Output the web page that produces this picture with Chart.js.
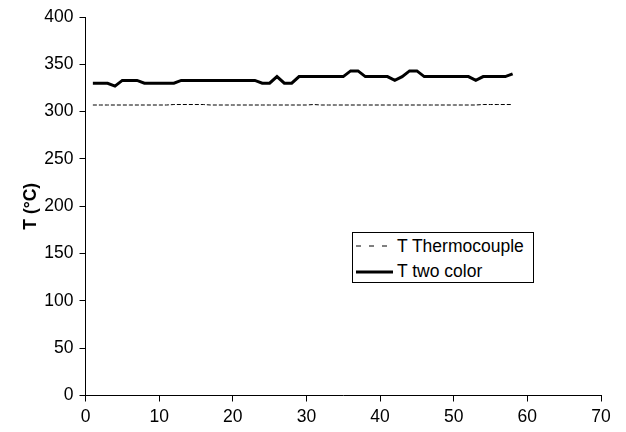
<!DOCTYPE html>
<html>
<head>
<meta charset="utf-8">
<script src="https://cdn.jsdelivr.net/npm/chart.js@4/dist/chart.umd.min.js"></script>
<style>
  body { margin: 0; background: #fff; }
  #wrap { position: relative; width: 626px; height: 432px; }
  #legend {
    position: absolute; left: 352px; top: 232px; width: 180px; height: 49px;
    border: 1px solid #000; background: #fff;
    font-family: "Liberation Sans", Arial, sans-serif; font-size: 17.5px; color: #000;
  }
  #legend .row { position: absolute; left: 0; height: 20px; display: flex; align-items: center; white-space: nowrap; }
  #legend svg { margin-left: 3px; margin-right: 4px; }
</style>
</head>
<body>
<div id="wrap">
  <canvas id="chart" width="626" height="432"></canvas>
  <div id="legend"></div>
</div>
<script>
// x positions (sample number) and temperatures
const samples = [1, 2, 3, 4, 5, 6, 7, 8, 9, 10, 11, 12, 13, 14, 15, 16, 17, 18, 19, 20,
                 21, 22, 23, 24, 25, 26, 27, 28, 29, 30, 31, 32, 33, 34, 35, 36, 37, 38, 39, 40,
                 41, 42, 43, 44, 45, 46, 47, 48, 49, 50, 51, 52, 53, 54, 55, 56, 57, 58];

const tThermocouple = [307, 307, 307, 307, 307, 307, 307, 307, 307, 307, 307, 307.5, 307.5, 307.5, 307.5, 307.5, 307, 307, 307, 307,
                       307, 307, 307, 307, 307, 307, 307, 307, 307, 307, 307.5, 307, 307, 307, 307, 307, 307, 307, 307, 307,
                       307, 307, 307, 307, 307, 307, 307, 307, 307, 307, 307, 307, 307, 307.5, 307.5, 307.5, 307.5, 307.5];

const tTwoColor = [330, 330, 330, 327, 333, 333, 333, 330, 330, 330, 330, 330, 333, 333, 333, 333, 333, 333, 333, 333,
                   333, 333, 333, 330, 330, 337, 330, 330, 337, 337, 337, 337, 337, 337, 337, 343, 343, 337, 337, 337,
                   337, 333, 337, 343, 343, 337, 337, 337, 337, 337, 337, 337, 333, 337, 337, 337, 337, 340];

const seriesNames = ["T Thermocouple", "T two color"];
const yTitle = "T (°C)";

const FONT = "'Liberation Sans', Arial, sans-serif";

const toPoints = vals => vals.map((v, i) => ({ x: samples[i], y: v }));

new Chart(document.getElementById("chart"), {
    type: "line",
    data: {
        datasets: [{
            label: seriesNames[0],
            data: toPoints(tThermocouple),
            borderColor: "#000",
            borderWidth: 1,
            borderDash: [4, 2],
            pointRadius: 0,
            tension: 0
        }, {
            label: seriesNames[1],
            data: toPoints(tTwoColor),
            borderColor: "#000",
            borderWidth: 3,
            pointRadius: 0,
            tension: 0
        }]
    },
    options: {
        responsive: false,
        animation: false,
        layout: { padding: { left: 0, top: 17, right: 25, bottom: 0 } },
        plugins: { legend: { display: false }, tooltip: { enabled: false } },
        scales: {
            x: {
                type: "linear", min: 0, max: 70,
                ticks: { stepSize: 10, color: "#000", padding: 5, font: { family: FONT, size: 17.5 } },
                grid: { drawOnChartArea: false, tickLength: 6, color: "#000" },
                border: { color: "#000" },
                afterFit: s => { s.height = 36.5; }
            },
            y: {
                min: 0, max: 400,
                ticks: { stepSize: 50, color: "#000", padding: 6, font: { family: FONT, size: 17.5 } },
                grid: { drawOnChartArea: false, tickLength: 6, color: "#000" },
                border: { color: "#000" },
                title: {
                    display: true, text: yTitle, color: "#000",
                    font: { family: FONT, size: 17.5, weight: "bold" },
                    padding: { top: 21, bottom: 0 }
                },
                afterFit: s => { s.width = 85.5; }
            }
        }
    }
});

// legend box as html
const legend = document.getElementById("legend");
const samplesSvg = [
    '<svg width="37" height="6"><line x1="0" y1="3" x2="37" y2="3" stroke="#000" stroke-width="1" stroke-dasharray="5,8"/></svg>',
    '<svg width="37" height="6"><line x1="0" y1="3" x2="37" y2="3" stroke="#000" stroke-width="3"/></svg>'
];
seriesNames.forEach((name, i) => {
    const row = document.createElement("div");
    row.className = "row";
    row.style.top = (3 + i * 25.5) + "px";
    row.innerHTML = samplesSvg[i] + "<span>" + name + "</span>";
    legend.appendChild(row);
});
</script>
</body>
</html>
